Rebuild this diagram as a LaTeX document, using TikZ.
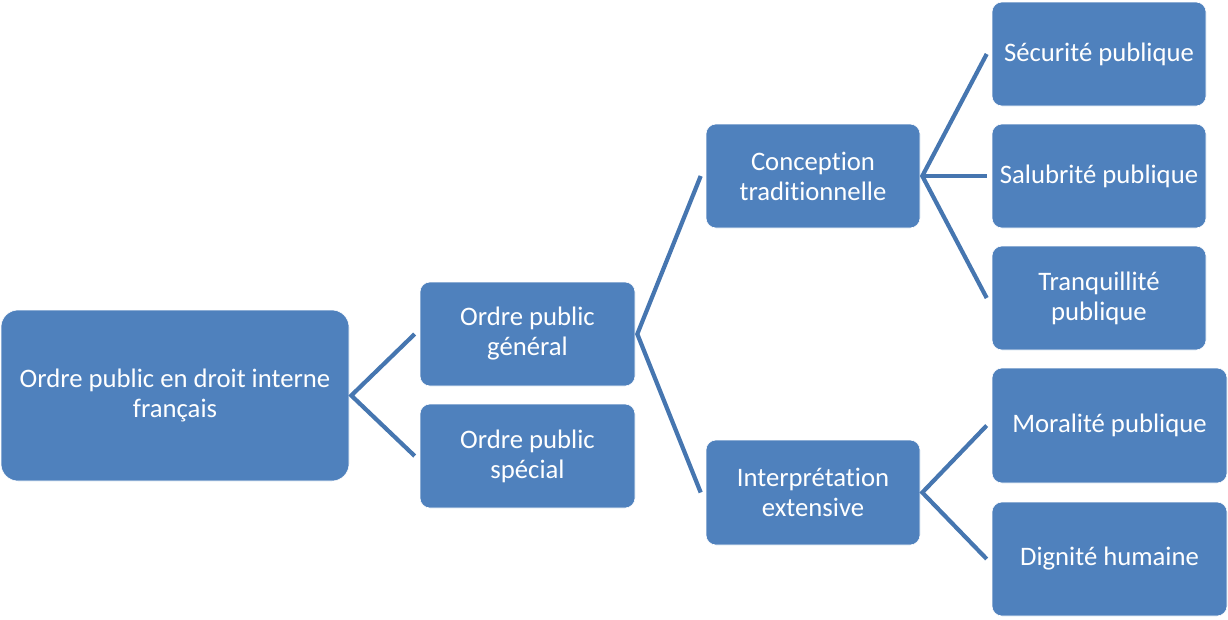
\documentclass[tikz,border=0pt]{standalone}
\usepackage{fontspec}
\setmainfont{Carlito}[Ligatures=NoCommon]
\definecolor{boxblue}{HTML}{4F81BD}
\definecolor{lineblue}{HTML}{4676B0}
\begin{document}
\begin{tikzpicture}[x=1pt,y=-1pt,
  box/.style={fill=boxblue, draw=white, line width=0.6pt, rounded corners=10pt,
    text=white, align=center, font=\fontsize{26.7}{30}\selectfont, inner sep=0pt},
  conn/.style={draw=lineblue, line width=4.2pt}]
\useasboundingbox (0,0) rectangle (1228,619);
\node[box, rounded corners=17pt, minimum width=348pt, minimum height=171pt] (root) at (175,395.5) {Ordre public en droit interne\\français};
\node[box, minimum width=215pt, minimum height=104pt] (gen) at (527.5,334) {Ordre public\\général};
\node[box, minimum width=215pt, minimum height=104pt] (spe) at (527.5,456) {Ordre public\\spécial};
\node[box, minimum width=214pt, minimum height=104pt] (conc) at (813,176) {Conception\\traditionnelle};
\node[box, minimum width=214pt, minimum height=105pt] (interp) at (813,492.5) {Interprétation\\extensive};
\node[box, minimum width=214pt, minimum height=104pt] (secu) at (1099,54) {Sécurité publique};
\node[box, minimum width=214pt, minimum height=104pt] (salu) at (1099,176) {Salubrité publique};
\node[box, minimum width=214pt, minimum height=104pt] (tranq) at (1099,298) {Tranquillité\\publique};
\node[box, minimum width=235pt, minimum height=115pt] (moral) at (1109.5,425.5) {Moralité publique};
\node[box, minimum width=235pt, minimum height=114pt] (dign) at (1109.5,559) {Dignité humaine};
\draw[conn] ([xshift=-5pt]gen.west) -- ([xshift=2pt]root.east) -- ([xshift=-5pt]spe.west);
\draw[conn] ([xshift=-5pt]conc.west) -- ([xshift=2pt]gen.east) -- ([xshift=-5pt]interp.west);
\draw[conn] ([xshift=-5pt]secu.west) -- ([xshift=2pt]conc.east) -- ([xshift=-5pt]tranq.west);
\draw[conn] ([xshift=2pt]conc.east) -- ([xshift=-5pt]salu.west);
\draw[conn] ([xshift=-5pt]moral.west) -- ([xshift=2pt]interp.east) -- ([xshift=-5pt]dign.west);
\end{tikzpicture}
\end{document}
